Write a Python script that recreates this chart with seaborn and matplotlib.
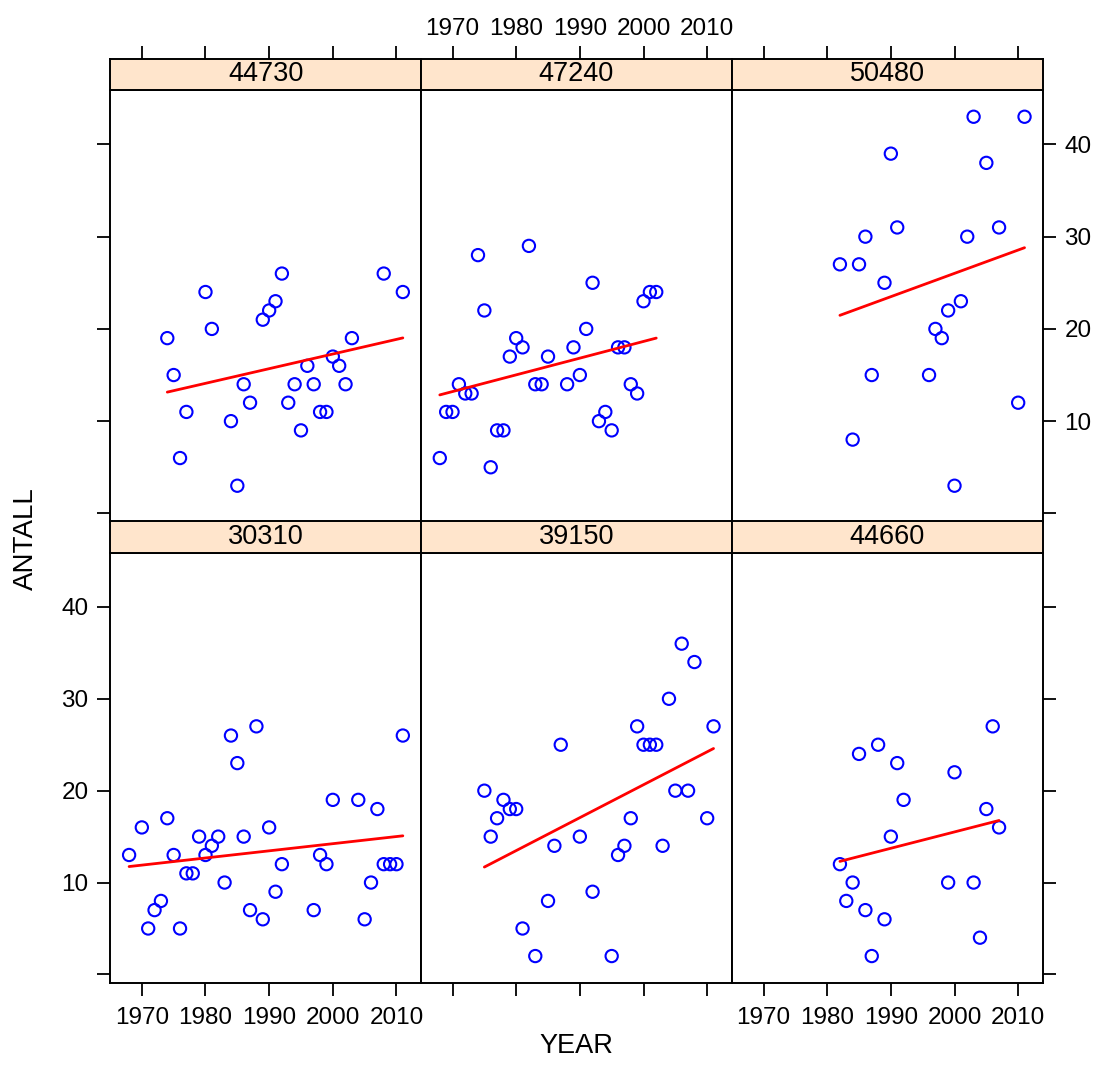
import numpy as np
import pandas as pd
import matplotlib
matplotlib.use("Agg")
import matplotlib.pyplot as plt
import seaborn as sns

# Panel order: top row left->right, then bottom row left->right
stations = ["44730", "47240", "50480", "30310", "39150", "44660"]

year_44730 = [1974, 1975, 1976, 1977, 1980, 1981, 1984, 1985, 1986, 1987, 1989, 1990, 1991, 1992,
              1993, 1994, 1995, 1996, 1997, 1998, 1999, 2000, 2001, 2002, 2003, 2008, 2011]
antall_44730 = [19, 15, 6, 11, 24, 20, 10, 3, 14, 12, 21, 22, 23, 26,
                12, 14, 9, 16, 14, 11, 11, 17, 16, 14, 19, 26, 24]

year_47240 = [1968, 1969, 1970, 1971, 1972, 1973, 1974, 1975, 1976, 1977, 1978, 1979, 1980, 1981,
              1982, 1983, 1984, 1985, 1988, 1989, 1990, 1991, 1992, 1993, 1994, 1995, 1996, 1997,
              1998, 1999, 2000, 2001, 2002]
antall_47240 = [6, 11, 11, 14, 13, 13, 28, 22, 5, 9, 9, 17, 19, 18,
                29, 14, 14, 17, 14, 18, 15, 20, 25, 10, 11, 9, 18, 18,
                14, 13, 23, 24, 24]

year_50480 = [1982, 1984, 1985, 1986, 1987, 1989, 1990, 1991, 1996, 1997, 1998, 1999, 2000, 2001,
              2002, 2003, 2005, 2007, 2010, 2011]
antall_50480 = [27, 8, 27, 30, 15, 25, 39, 31, 15, 20, 19, 22, 3, 23,
                30, 43, 38, 31, 12, 43]

year_30310 = [1968, 1970, 1971, 1972, 1973, 1974, 1975, 1976, 1977, 1978, 1979, 1980, 1981, 1982,
              1983, 1984, 1985, 1986, 1987, 1988, 1989, 1990, 1991, 1992, 1997, 1998, 1999, 2000,
              2004, 2005, 2006, 2007, 2008, 2009, 2010, 2011]
antall_30310 = [13, 16, 5, 7, 8, 17, 13, 5, 11, 11, 15, 13, 14, 15,
                10, 26, 23, 15, 7, 27, 6, 16, 9, 12, 7, 13, 12, 19,
                19, 6, 10, 18, 12, 12, 12, 26]

year_39150 = [1975, 1976, 1977, 1978, 1979, 1980, 1981, 1983, 1985, 1986, 1987, 1990, 1992, 1995,
              1996, 1997, 1998, 1999, 2000, 2001, 2002, 2003, 2004, 2005, 2006, 2007, 2008, 2010,
              2011]
antall_39150 = [20, 15, 17, 19, 18, 18, 5, 2, 8, 14, 25, 15, 9, 2,
                13, 14, 17, 27, 25, 25, 25, 14, 30, 20, 36, 20, 34, 17,
                27]

year_44660 = [1982, 1983, 1984, 1985, 1986, 1987, 1988, 1989, 1990, 1991, 1992, 1999, 2000, 2003,
              2004, 2005, 2006, 2007]
antall_44660 = [12, 8, 10, 24, 7, 2, 25, 6, 15, 23, 19, 10, 22, 10,
                4, 18, 27, 16]

years = [year_44730, year_47240, year_50480, year_30310, year_39150, year_44660]
counts = [antall_44730, antall_47240, antall_50480, antall_30310, antall_39150, antall_44660]

x_ticks = [1970, 1980, 1990, 2000, 2010]
y_ticks = [0, 10, 20, 30, 40]
y_ticklabels = ["", "10", "20", "30", "40"]

df = pd.concat(
    [pd.DataFrame({"STASJON": s, "YEAR": y, "ANTALL": a}) for s, y, a in zip(stations, years, counts)],
    ignore_index=True,
)

sns.set_style("white")
plt.rcParams["font.family"] = ["Liberation Sans", "DejaVu Sans"]
plt.rcParams["text.color"] = "black"

W, H = 1096, 1075
fig = plt.figure(figsize=(W / 100, H / 100), dpi=100)

col_left = [110, 420.7, 731.7]
col_w = 311.3
row_top = [90, 552.7]      # top of data region (px)
row_h = [431.7, 430.0]
strip_h = 31.3
xlim = (1965.0, 2013.9)
ylim = (-0.9, 45.9)


def px_rect(x0, y0, w, h):
    return [x0 / W, 1 - (y0 + h) / H, w / W, h / H]


tick_kw = dict(direction="out", length=9.5, width=1.3, labelsize=17.5, colors="black")

for i, st in enumerate(stations):
    r, c = divmod(i, 3)
    ax = fig.add_axes(px_rect(col_left[c], row_top[r], col_w, row_h[r]))
    sub = df[df["STASJON"] == st]
    sns.regplot(data=sub, x="YEAR", y="ANTALL", ax=ax, ci=None, truncate=True, color="#0000FF",
                scatter_kws=dict(facecolors="none", s=78, linewidths=1.5, alpha=1, zorder=2),
                line_kws=dict(color="#FF0000", lw=2.0, zorder=3))
    ax.set_xlim(xlim)
    ax.set_ylim(ylim)
    ax.set_xlabel("")
    ax.set_ylabel("")
    for sp in ax.spines.values():
        sp.set_color("black")
        sp.set_linewidth(1.4)

    # x ticks: only on the outer bottom edge
    ax.set_xticks(x_ticks)
    if r == 1:
        ax.tick_params(axis="x", bottom=True, top=False, labelbottom=(c != 1), labeltop=False,
                       pad=8, **tick_kw)
    else:
        ax.tick_params(axis="x", bottom=False, top=False, labelbottom=False, labeltop=False)

    # y ticks: left on first column, right on last column
    ax.set_yticks(y_ticks)
    ax.set_yticklabels(y_ticklabels)
    ax.tick_params(axis="y", left=(c == 0), right=(c == 2),
                   labelleft=(c == 0 and r == 1), labelright=(c == 2 and r == 0),
                   pad=6, **tick_kw)

    # strip
    sax = fig.add_axes(px_rect(col_left[c], row_top[r] - strip_h, col_w, strip_h))
    sax.set_facecolor("#FFE5CC")
    sax.set_xlim(xlim)
    sax.set_ylim(0, 1)
    sax.set_yticks([])
    for sp in sax.spines.values():
        sp.set_color("black")
        sp.set_linewidth(1.4)
    sax.text(0.5, 0.5, st, transform=sax.transAxes, ha="center", va="center", fontsize=19.5)
    sax.set_xticks(x_ticks)
    if r == 0:
        sax.tick_params(axis="x", top=True, bottom=False, labeltop=(c == 1), labelbottom=False,
                        pad=4, **tick_kw)
    else:
        sax.tick_params(axis="x", top=False, bottom=False, labeltop=False, labelbottom=False)

fig.text((110 + 1043) / 2 / W, 1 - 1046 / H, "YEAR", ha="center", va="center", fontsize=19.5)
fig.text(26 / W, 1 - 539 / H, "ANTALL", ha="center", va="center", rotation=90, fontsize=20)

fig.savefig("out.png", dpi=100, facecolor="white")
